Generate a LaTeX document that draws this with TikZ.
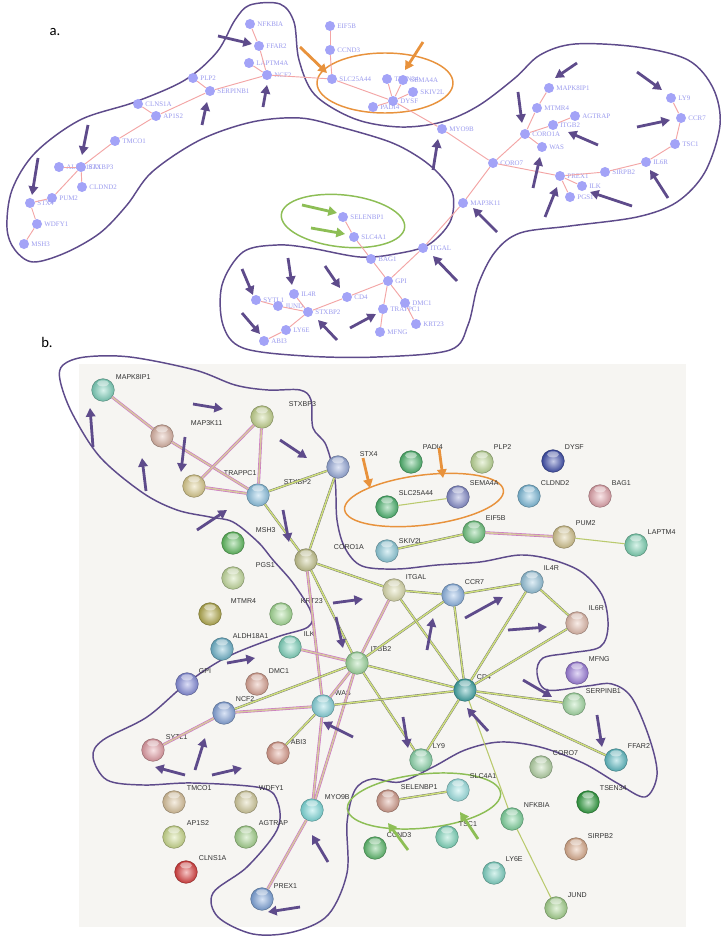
\documentclass[tikz,border=0pt]{standalone}
\usepackage{fontspec}
\setmainfont{Liberation Serif}
\newfontfamily\bsans{Liberation Sans}
\newfontfamily\plab{Carlito}
\usetikzlibrary{arrows.meta,shapes.geometric}
\definecolor{anodec}{HTML}{A3A3F7}
\definecolor{alabc}{HTML}{9A9AEE}
\definecolor{aedgec}{HTML}{F3A5A5}
\definecolor{hullc}{HTML}{5E4B8B}
\definecolor{orng}{HTML}{E8923C}
\definecolor{grn}{HTML}{8DBE55}
\definecolor{bgb}{HTML}{F6F5F2}
\definecolor{yel}{HTML}{CFE07A}
\definecolor{pnk}{HTML}{E49AE0}
\tikzset{
 anode/.style={circle, fill=anodec, minimum size=7.5pt, inner sep=0pt},
 alabel/.style={text=alabc, font=\fontsize{5.2}{6}\selectfont, inner sep=0.8pt, anchor=west},
 aedge/.style={draw=aedgec, line width=0.7pt},
 bnode/.style={circle, minimum size=17pt, inner sep=0pt, draw=#1!60!black, line width=0.3pt,
   inner color=#1!30!white, outer color=#1!85!black,
   path picture={\fill[white,opacity=0.45] ([yshift=-3.5pt]path picture bounding box.north) ellipse (4.5pt and 2.3pt);}},
 blabel/.style={text=black!80, font=\bsans\fontsize{5.3}{6}\selectfont, inner sep=0.5pt, anchor=west},
 ye/.style={draw=black!55, line width=0.3pt, double=yel, double distance=1.1pt},
 pe/.style={draw=pnk!75!violet, line width=0.45pt, double=yel!65!pnk, double distance=1.2pt},
 ty/.style={draw=yel!90!black, line width=0.8pt},
 parrow/.style={draw=hullc, line width=2.1pt, -{Triangle[length=6.5pt,width=7pt]}},
 oarrow/.style={draw=orng, line width=2.1pt, -{Triangle[length=6.5pt,width=7pt]}},
 garrow/.style={draw=grn, line width=2.1pt, -{Triangle[length=6.5pt,width=7pt]}},
 hullline/.style={draw=hullc, line width=1.1pt},
 plabel/.style={font=\plab\fontsize{11}{12}\selectfont, text=black, inner sep=0pt},
}
\newcommand\anod[4]{\node[anode] (a#1) at (#2,#3) {}; \node[alabel] (a#1-l) at ([xshift=0.6pt]a#1.east) {#4};}
\newcommand\bnod[7]{\definecolor{c#1}{HTML}{#4}\node[bnode=c#1] (b#1) at (#2,#3) {}; \node[blabel] (b#1-l) at (#6,#7) {#5};}
\begin{document}
\begin{tikzpicture}[x=0.75pt,y=-0.75pt]
\fill[white] (0,0) rectangle (723,945);
\useasboundingbox (0,0) rectangle (723,945);
% ================= panel a =================
\node[plabel] (la) at (55,32) {a.};
\draw[hullline] plot[smooth cycle, tension=0.55] coordinates {
 (250,5) (280,4) (294,22) (299,60) (315,95) (355,119) (400,127) (442,122) (478,106) (515,78) (540,55)
 (575,44) (637,47) (688,60) (713,88) (720,125) (705,172) (677,202) (637,217) (570,226) (520,233)
 (495,252) (478,285) (468,325) (450,350) (377,357) (305,356) (243,348) (223,325) (222,285) (243,252)
 (277,245) (310,248) (360,257) (395,254) (428,245) (450,222) (453,195) (440,175) (420,158) (390,142)
 (340,127) (300,118) (252,122) (200,140) (152,172) (127,205) (100,233) (65,253) (33,262) (15,250)
 (7,228) (12,190) (35,153) (80,120) (135,102) (185,80) (217,52) (235,20)};
\draw[orng, line width=1.1pt] (385,83) ellipse [x radius=68, y radius=30];
\draw[grn, line width=1.1pt, rotate around={-6:(343,221)}] (343,221) ellipse [x radius=62, y radius=26];
\anod{NFKBIA}{250}{24}{NFKBIA}
\anod{FFAR2}{259}{46}{FFAR2}
\anod{LAPTM4A}{249}{63}{LAPTM4A}
\anod{NCF2}{267}{75}{NCF2}
\anod{PLP2}{193}{78}{PLP2}
\anod{SERPINB1}{210}{91}{SERPINB1}
\anod{CLNS1A}{138}{104}{CLNS1A}
\anod{AP1S2}{156}{116}{AP1S2}
\anod{TMCO1}{115}{141}{TMCO1}
\anod{ALDH}{59}{167}{ALDH18A1}
\anod{STXBP3}{81}{167}{STXBP3}
\anod{CLDND2}{82}{187}{CLDND2}
\anod{PUM2}{52}{198}{PUM2}
\anod{STX4}{30}{203}{STX4}
\anod{WDFY1}{37}{224}{WDFY1}
\anod{MSH3}{24}{244}{MSH3}
\anod{EIF5B}{330}{26}{EIF5B}
\anod{CCND3}{330}{50}{CCND3}
\anod{SLC25A44}{332}{79}{SLC25A44}
\anod{TSEN34}{387}{79}{TSEN34}
\anod{SEMA4A}{403}{80}{SEMA4A}
\anod{SKIV2L}{413}{92}{SKIV2L}
\anod{DYSF}{393}{101}{DYSF}
\anod{PADI4}{373}{107}{PADI4}
\anod{MYO9B}{442}{129}{MYO9B}
\anod{CORO7}{493}{163}{CORO7}
\anod{MAPK8IP1}{549}{88}{MAPK8IP1}
\anod{MTMR4}{537}{108}{MTMR4}
\anod{AGTRAP}{575}{116}{AGTRAP}
\anod{ITGB2}{553}{125}{ITGB2}
\anod{CORO1A}{525}{134}{CORO1A}
\anod{WAS}{542}{147}{WAS}
\anod{PREX1}{560}{176}{PREX1}
\anod{ILK}{582}{186}{ILK}
\anod{PGS1}{570}{197}{PGS1}
\anod{SIRPB2}{605}{172}{SIRPB2}
\anod{IL6R}{646}{162}{IL6R}
\anod{TSC1}{675}{144}{TSC1}
\anod{CCR7}{681}{118}{CCR7}
\anod{LY9}{671}{98}{LY9}
\anod{MAP3K11}{463}{203}{MAP3K11}
\anod{SELENBP1}{343}{217}{SELENBP1}
\anod{SLC4A1}{354}{237}{SLC4A1}
\anod{BAG1}{371}{259}{BAG1}
\anod{ITGAL}{423}{248}{ITGAL}
\anod{GPI}{388}{281}{GPI}
\anod{CD4}{347}{297}{CD4}
\anod{IL4R}{294}{294}{IL4R}
\anod{SYTL1}{256}{300}{SYTL1}
\anod{JUND}{278}{306}{JUND}
\anod{STXBP2}{308}{312}{STXBP2}
\anod{TRAPPC1}{383}{309}{TRAPPC1}
\anod{DMC1}{405}{303}{DMC1}
\anod{KRT23}{416}{324}{KRT23}
\anod{LY6E}{286}{330}{LY6E}
\anod{ABI3}{264}{341}{ABI3}
\anod{MFNG}{380}{332}{MFNG}
\foreach \u/\v in {NFKBIA/FFAR2, FFAR2/NCF2, LAPTM4A/NCF2, NCF2/SERPINB1, PLP2/SERPINB1, SERPINB1/AP1S2,
  CLNS1A/AP1S2, AP1S2/TMCO1, TMCO1/STXBP3, ALDH/STXBP3, STXBP3/CLDND2, STXBP3/PUM2, PUM2/STX4,
  STX4/WDFY1, WDFY1/MSH3, NCF2/SLC25A44, EIF5B/CCND3, CCND3/SLC25A44, SLC25A44/DYSF, TSEN34/DYSF,
  SEMA4A/DYSF, SKIV2L/DYSF, PADI4/DYSF, DYSF/MYO9B, MYO9B/CORO7, MAPK8IP1/MTMR4, MTMR4/CORO1A,
  CORO1A/ITGB2, ITGB2/AGTRAP, CORO1A/WAS, CORO1A/CORO7, CORO7/PREX1, PREX1/ILK, PREX1/PGS1,
  PREX1/SIRPB2, SIRPB2/IL6R, IL6R/TSC1, TSC1/CCR7, CCR7/LY9, CORO7/MAP3K11, MAP3K11/ITGAL,
  ITGAL/GPI, SELENBP1/SLC4A1, SLC4A1/BAG1, BAG1/GPI, GPI/CD4, CD4/STXBP2, STXBP2/IL4R,
  STXBP2/JUND, JUND/SYTL1, STXBP2/LY6E, LY6E/ABI3, GPI/TRAPPC1, TRAPPC1/MFNG, GPI/DMC1, DMC1/KRT23}
  {\draw[aedge] (a\u) -- (a\v);}
% arrows panel a
\draw[parrow] (218,36) -- (252,44);
\draw[parrow] (263,107) -- (267,85);
\draw[parrow] (202,125) -- (207,102);
\draw[parrow] (88,125) -- (82,155);
\draw[parrow] (38,158) -- (32,195);
\draw[parrow] (518,92) -- (522,123);
\draw[parrow] (433,170) -- (438,139);
\draw[parrow] (577,63) -- (555,78);
\draw[parrow] (598,145) -- (568,132);
\draw[parrow] (533,188) -- (540,157);
\draw[parrow] (545,217) -- (557,187);
\draw[parrow] (632,206) -- (590,192);
\draw[parrow] (668,198) -- (650,170);
\draw[parrow] (637,127) -- (670,120);
\draw[parrow] (637,72) -- (662,90);
\draw[parrow] (497,232) -- (473,208);
\draw[parrow] (457,281) -- (433,256);
\draw[parrow] (288,258) -- (292,285);
\draw[parrow] (325,266) -- (340,288);
\draw[parrow] (242,269) -- (253,295);
\draw[parrow] (242,313) -- (260,334);
\draw[parrow] (337,340) -- (318,320);
\draw[parrow] (350,328) -- (376,314);
\draw[oarrow] (300,47) -- (327,73);
\draw[oarrow] (423,42) -- (405,70);
\draw[garrow] (302,205) -- (337,213);
\draw[garrow] (311,228) -- (345,234);
% ================= panel b =================
\node[plabel] (lb) at (47,342) {b.};
\fill[bgb] (79,364) rectangle (686,927);
\draw[hullline] plot[smooth cycle, tension=0.55] coordinates {
 (63,365) (85,357) (130,357) (195,370) (235,385) (268,390) (300,390) (311,400) (313,428) (326,445)
 (335,480) (337,520) (345,548) (362,566) (397,569) (437,565) (480,562) (520,555) (553,560) (583,573)
 (603,597) (608,627) (600,647) (570,653) (543,658) (537,673) (547,690) (587,686) (612,684) (632,698)
 (650,740) (657,775) (645,797) (617,783) (583,763) (540,747) (500,742) (465,750) (433,767) (400,782)
 (372,779) (355,790) (347,823) (347,873) (328,915) (293,932) (253,934) (218,917) (213,893) (247,867)
 (277,830) (278,803) (262,788) (193,783) (143,785) (107,780) (93,757) (103,740) (147,717) (187,683)
 (227,657) (277,637) (308,627) (311,612) (293,583) (273,560) (258,542) (233,522) (210,517) (177,510)
 (143,493) (100,457) (72,413) (60,380)};
\draw[orng, line width=1.1pt, rotate around={7:(424,500)}] (424,500) ellipse [x radius=80, y radius=25];
\draw[grn, line width=1.1pt, rotate around={6:(424,801)}] (424,801) ellipse [x radius=77, y radius=27];
\bnod{MAPK8IP1}{103}{390}{7FD6C0}{MAPK8IP1}{115}{377}
\bnod{MAP3K11}{162}{436}{E0B8A8}{MAP3K11}{190}{423}
\bnod{STXBP3}{262}{417}{C8D890}{STXBP3}{288}{404}
\bnod{TRAPPC1}{194}{486}{E0D090}{TRAPPC1}{223}{473}
\bnod{STXBP2}{258}{495}{90C8E8}{STXBP2}{283}{482}
\bnod{STX4}{338}{467}{9AAEE0}{STX4}{359}{454}
\bnod{MSH3}{233}{543}{60C060}{MSH3}{255}{530}
\bnod{CORO1A}{306}{560}{C8C890}{CORO1A}{333}{547}
\bnod{PGS1}{233}{578}{C8E0A0}{PGS1}{255}{565}
\bnod{MTMR4}{210}{614}{B8B050}{MTMR4}{230}{601}
\bnod{KRT23}{281}{614}{A8E098}{KRT23}{300}{601}
\bnod{ALDH}{222}{649}{70B8D0}{ALDH18A1}{232}{636}
\bnod{ILK}{290}{647}{80D8C0}{ILK}{303}{634}
\bnod{ITGB2}{357}{663}{A0DCA0}{ITGB2}{370}{649}
\bnod{GPI}{187}{684}{8890E0}{GPI}{198}{671}
\bnod{DMC1}{257}{684}{E0A898}{DMC1}{268}{671}
\bnod{NCF2}{224}{713}{88A8E0}{NCF2}{235}{699}
\bnod{WAS}{323}{706}{88D8E0}{WAS}{334}{693}
\bnod{SYTL1}{153}{750}{E8A0A8}{SYTL1}{165}{737}
\bnod{ABI3}{278}{753}{E0A090}{ABI3}{290}{742}
\bnod{PADI4}{411}{462}{50B870}{PADI4}{422}{447}
\bnod{PLP2}{482}{462}{C0DC98}{PLP2}{493}{447}
\bnod{DYSF}{553}{461}{4050B0}{DYSF}{564}{447}
\bnod{SLC25A44}{387}{507}{4CB870}{SLC25A44}{398}{493}
\bnod{SEMA4A}{458}{497}{8890D0}{SEMA4A}{469}{483}
\bnod{CLDND2}{529}{496}{80C0E0}{CLDND2}{540}{483}
\bnod{BAG1}{600}{496}{E8A8B0}{BAG1}{611}{483}
\bnod{EIF5B}{474}{532}{70C880}{EIF5B}{485}{518}
\bnod{PUM2}{564}{537}{D8C890}{PUM2}{575}{523}
\bnod{LAPTM4}{636}{545}{80D8B8}{LAPTM4}{647}{532}
\bnod{SKIV2L}{387}{551}{90D0E0}{SKIV2L}{398}{541}
\bnod{ITGAL}{394}{590}{E0E0B0}{ITGAL}{405}{577}
\bnod{CCR7}{453}{595}{90B8E8}{CCR7}{464}{582}
\bnod{IL4R}{532}{582}{98C8E0}{IL4R}{543}{568}
\bnod{IL6R}{577}{623}{E8C0B0}{IL6R}{588}{608}
\bnod{MFNG}{577}{673}{A080E0}{MFNG}{588}{659}
\bnod{CD4}{465}{690}{40A8A8}{CD4}{476}{677}
\bnod{SERPINB1}{574}{704}{A8E0A8}{SERPINB1}{585}{691}
\bnod{FFAR2}{616}{760}{60C0C8}{FFAR2}{627}{746}
\bnod{LY9}{421}{760}{90DCB0}{LY9}{432}{746}
\bnod{TMCO1}{174}{802}{E0C8A0}{TMCO1}{186}{788}
\bnod{WDFY1}{246}{802}{D8D0A0}{WDFY1}{258}{788}
\bnod{MYO9B}{312}{810}{80E0E0}{MYO9B}{324}{797}
\bnod{AP1S2}{174}{837}{D0E090}{AP1S2}{186}{823}
\bnod{AGTRAP}{246}{837}{A8D890}{AGTRAP}{258}{823}
\bnod{CLNS1A}{186}{872}{E04040}{CLNS1A}{198}{858}
\bnod{PREX1}{262}{899}{80A8E0}{PREX1}{273}{886}
\bnod{SELENBP1}{388}{801}{D8A090}{SELENBP1}{400}{787}
\bnod{CCND3}{375}{848}{60C070}{CCND3}{386}{835}
\bnod{SLC4A1}{458}{790}{A0E8E8}{SLC4A1}{469}{776}
\bnod{TSC1}{447}{837}{80DCC0}{TSC1}{458}{824}
\bnod{NFKBIA}{512}{819}{80D8A0}{NFKBIA}{523}{805}
\bnod{CORO7}{541}{767}{B8D8A8}{CORO7}{552}{753}
\bnod{TSEN34}{588}{802}{30A040}{TSEN34}{599}{788}
\bnod{SIRPB2}{576}{849}{E0B090}{SIRPB2}{587}{836}
\bnod{LY6E}{494}{873}{80D8C8}{LY6E}{505}{859}
\bnod{JUND}{556}{908}{A8D890}{JUND}{567}{895}
\begin{scope}[on background layer/.try]
\end{scope}
\foreach \u/\v in {MAPK8IP1/MAP3K11, MAP3K11/STXBP2, STXBP3/TRAPPC1, STXBP3/STXBP2, TRAPPC1/STXBP2,
  EIF5B/PUM2, CORO1A/WAS, ILK/ITGB2, ITGB2/ITGAL, ITGB2/WAS, ITGB2/MYO9B, WAS/MYO9B, NCF2/WAS,
  NCF2/SYTL1, MYO9B/PREX1}
  {\draw[pe] (b\u) -- (b\v);}
\foreach \u/\v in {STXBP2/STX4, STXBP2/CORO1A, STX4/CORO1A, SKIV2L/EIF5B, CORO1A/ITGB2, CORO1A/ITGAL,
  ITGB2/CCR7, ITGB2/CD4, ITGB2/NCF2, ITGB2/LY9, WAS/CD4, WAS/ABI3, ITGAL/CCR7, ITGAL/CD4, CCR7/IL4R,
  CCR7/CD4, IL4R/IL6R, IL4R/CD4, IL6R/CD4, CD4/SERPINB1, CD4/FFAR2, CD4/LY9, SELENBP1/SLC4A1}
  {\draw[ye] (b\u) -- (b\v);}
\foreach \u/\v in {SLC25A44/SEMA4A, PUM2/LAPTM4, CD4/NFKBIA, NFKBIA/JUND}
  {\draw[ty] (b\u) -- (b\v);}
% arrows panel b
\draw[parrow] (93,447) -- (90,408);
\draw[parrow] (193,404) -- (223,409);
\draw[parrow] (185,437) -- (181,472);
\draw[parrow] (146,491) -- (142,458);
\draw[parrow] (280,440) -- (307,458);
\draw[parrow] (197,530) -- (227,510);
\draw[parrow] (283,510) -- (289,542);
\draw[parrow] (333,603) -- (363,599);
\draw[parrow] (336,617) -- (343,648);
\draw[parrow] (227,663) -- (255,658);
\draw[parrow] (353,737) -- (323,722);
\draw[parrow] (195,770) -- (205,738);
\draw[parrow] (185,775) -- (155,767);
\draw[parrow] (212,775) -- (242,768);
\draw[parrow] (328,862) -- (312,835);
\draw[parrow] (300,907) -- (268,912);
\draw[parrow] (403,717) -- (408,748);
\draw[parrow] (427,650) -- (433,618);
\draw[parrow] (465,618) -- (503,597);
\draw[parrow] (508,630) -- (547,627);
\draw[parrow] (523,680) -- (552,697);
\draw[parrow] (488,731) -- (467,708);
\draw[parrow] (597,715) -- (602,747);
\draw[oarrow] (439,448) -- (443,478);
\draw[oarrow] (363,458) -- (370,488);
\draw[garrow] (408,850) -- (388,823);
\draw[garrow] (478,839) -- (460,812);
\end{tikzpicture}
\end{document}
